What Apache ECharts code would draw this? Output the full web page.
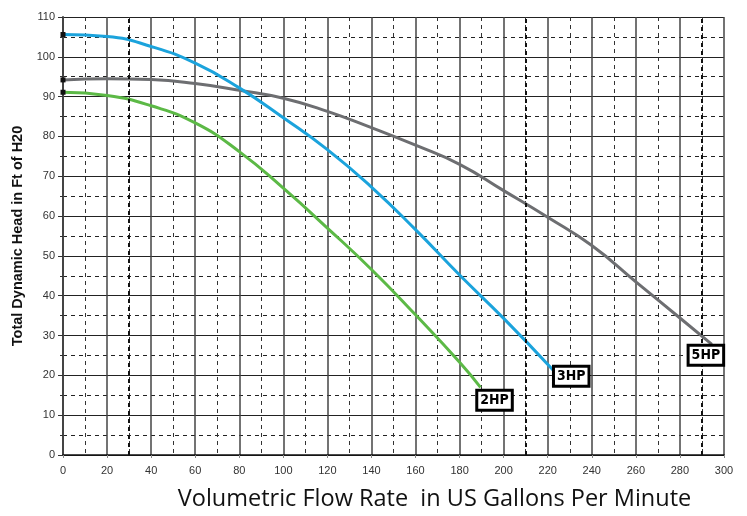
<!DOCTYPE html>
<html>
<head>
<meta charset="utf-8">
<script src="https://cdn.jsdelivr.net/npm/echarts@6/dist/echarts.min.js"></script>
<style>
  html, body { margin: 0; padding: 0; background: #fff; }
  #chart { width: 747px; height: 516px; }
</style>
</head>
<body>
<div id="chart"></div>
<script>
// pump curves
const flow2HP = [0, 20, 40, 60, 80, 100, 120, 140, 160, 180, 189.5];
const head2HP = [91.1, 90.3, 87.7, 83.4, 76.2, 67, 57, 46.6, 35.2, 23.3, 17];

const flow3HP = [0, 20, 40, 60, 80, 100, 120, 140, 160, 180, 200, 222.5];
const head3HP = [105.6, 105.1, 102.6, 98.4, 92.2, 84.7, 76.7, 67.3, 56.6, 45.2, 34.3, 21.3];

const flow5HP = [0, 20, 40, 60, 80, 100, 120, 140, 160, 180, 200, 220, 240, 260, 280, 294.5];
const head5HP = [94.2, 94.5, 94.3, 93.3, 91.6, 89.6, 86.3, 82.2, 77.8, 73, 66.4, 59.7, 52.6, 43.5, 34.4, 27.8];

const boldDashX = [30, 210, 290];

const labelFont = "'DejaVu Sans Condensed', 'Liberation Sans Narrow', 'Roboto Condensed', 'DejaVu Sans', sans-serif";

function toPoints(xs, ys) {
  return xs.map((x, i) => {
    if (i === 0) {
      // small black square where the curve starts
      return { value: [x, ys[i]], symbol: 'rect', symbolSize: 5, itemStyle: { color: '#111' } };
    }
    return [x, ys[i]];
  });
}

function endTag(text, xs, ys, offset) {
  const n = xs.length - 1;
  return {
    symbol: 'rect',
    symbolSize: 0,
    silent: true,
    data: [{ coord: [xs[n], ys[n]] }],
    label: {
      show: true,
      position: 'inside',
      offset: offset,
      formatter: text,
      fontFamily: labelFont,
      fontWeight: 'bold',
      fontSize: 14,
      lineHeight: 16,
      color: '#000',
      backgroundColor: '#fff',
      borderColor: '#000',
      borderWidth: 3,
      padding: [1, 2, 0, 2],
    },
  };
}

const chart = echarts.init(document.getElementById('chart'));

chart.setOption({
  animation: false,
  grid: { left: 63, right: 23, top: 17, bottom: 59 },
  xAxis: {
    type: 'value',
    min: 0,
    max: 300,
    interval: 20,
    name: 'Volumetric Flow Rate  in US Gallons Per Minute',
    nameLocation: 'middle',
    nameGap: 32,
    nameTextStyle: {
      fontFamily: "'Open Sans', sans-serif",
      fontSize: 23.5,
      color: '#111',
      padding: [0, 0, 0, 82],
    },
    axisLine: { lineStyle: { color: '#111', width: 1.5 } },
    axisTick: { length: 3, lineStyle: { color: '#888' } },
    axisLabel: { fontFamily: "'Liberation Sans', Arial, sans-serif", fontSize: 11, color: '#333', margin: 10 },
    splitLine: { lineStyle: { color: '#444', width: 1.5 } },
    minorTick: { show: false, splitNumber: 2 },
    minorSplitLine: { show: true, lineStyle: { color: '#333', type: [4, 4], width: 1 } },
  },
  yAxis: {
    type: 'value',
    min: 0,
    max: 110,
    interval: 10,
    name: 'Total Dynamic Head in Ft of H20',
    nameLocation: 'middle',
    nameGap: 37,
    nameTextStyle: {
      fontFamily: "'Liberation Sans', Arial, sans-serif",
      fontSize: 14.5,
      fontWeight: 'bold',
      color: '#111',
    },
    axisLine: { show: true, lineStyle: { color: '#444', width: 2 } },
    axisTick: { show: true, length: 5, lineStyle: { color: '#333' } },
    axisLabel: { fontFamily: "'Liberation Sans', Arial, sans-serif", fontSize: 11, color: '#333', margin: 8 },
    splitLine: { lineStyle: { color: '#222', width: 1.2 } },
    minorTick: { show: true, splitNumber: 2, length: 3, lineStyle: { color: '#333' } },
    minorSplitLine: { show: true, lineStyle: { color: '#222', type: [4, 4], width: 1 } },
  },
  series: [
    {
      name: '5HP',
      type: 'line',
      smooth: true,
      symbol: 'none',
      showSymbol: true,
      lineStyle: { color: '#6d6e71', width: 3 },
      data: toPoints(flow5HP, head5HP),
      markPoint: endTag('5HP', flow5HP, head5HP, [-6, 11]),
      markLine: {
        silent: true,
        symbol: 'none',
        label: { show: false },
        lineStyle: { color: '#111', type: [4, 4], width: 2 },
        data: boldDashX.map((x) => ({ xAxis: x })),
      },
      z: 3,
    },
    {
      name: '3HP',
      type: 'line',
      smooth: true,
      symbol: 'none',
      showSymbol: true,
      lineStyle: { color: '#1ba3dc', width: 3 },
      data: toPoints(flow3HP, head3HP),
      markPoint: endTag('3HP', flow3HP, head3HP, [18, 6]),
      z: 4,
    },
    {
      name: '2HP',
      type: 'line',
      smooth: true,
      symbol: 'none',
      showSymbol: true,
      lineStyle: { color: '#5cb946', width: 3 },
      data: toPoints(flow2HP, head2HP),
      markPoint: endTag('2HP', flow2HP, head2HP, [14, 13]),
      z: 4,
    },
  ],
});
</script>
</body>
</html>
